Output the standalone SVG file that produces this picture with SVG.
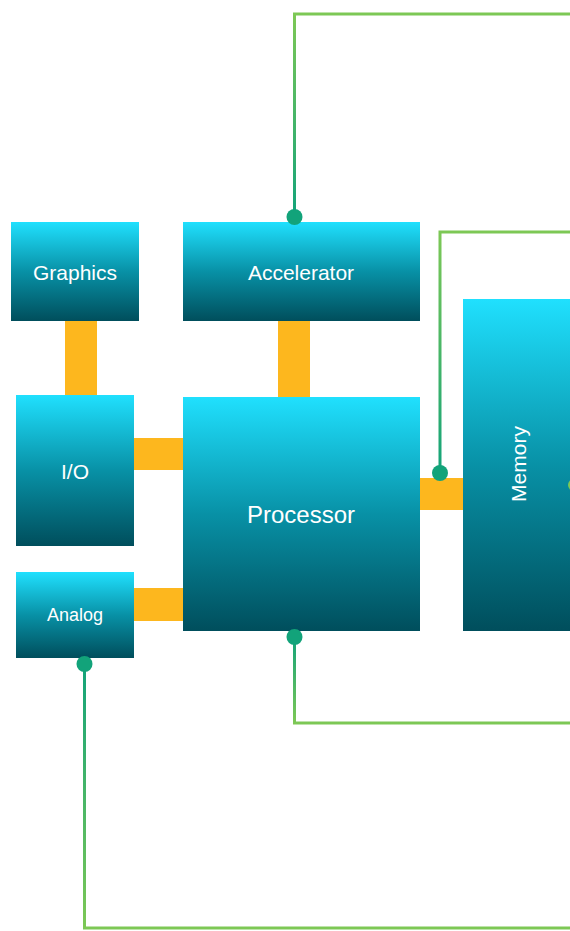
<svg xmlns="http://www.w3.org/2000/svg" width="570" height="931" viewBox="0 0 570 931">
<defs>
<linearGradient id="box" x1="0" y1="0" x2="0" y2="1">
<stop offset="0" stop-color="#20E0FE"/>
<stop offset="0.5" stop-color="#0891A6"/>
<stop offset="1" stop-color="#004E5C"/>
</linearGradient>
<linearGradient id="g1" gradientUnits="userSpaceOnUse" x1="0" y1="217" x2="0" y2="14">
<stop offset="0" stop-color="#12A37A"/><stop offset="1" stop-color="#7DC855"/>
</linearGradient>
<linearGradient id="g2" gradientUnits="userSpaceOnUse" x1="0" y1="473" x2="0" y2="232">
<stop offset="0" stop-color="#12A37A"/><stop offset="1" stop-color="#7DC855"/>
</linearGradient>
<linearGradient id="g3" gradientUnits="userSpaceOnUse" x1="0" y1="637" x2="0" y2="723">
<stop offset="0" stop-color="#12A37A"/><stop offset="1" stop-color="#7DC855"/>
</linearGradient>
<linearGradient id="g4" gradientUnits="userSpaceOnUse" x1="0" y1="664" x2="0" y2="928">
<stop offset="0" stop-color="#12A37A"/><stop offset="1" stop-color="#7DC855"/>
</linearGradient>
</defs>
<style>
.node{fill:url(#box)}
.bus{fill:#FDB71E}
.lbl{fill:#FFFFFF;font-family:"Liberation Sans",Arial,sans-serif;text-anchor:middle;dominant-baseline:central}
.wire{fill:none;stroke-width:3}
.dot{fill:#12A37A}
</style>
<g id="buses">
<rect class="bus" x="65" y="320" width="32" height="76"/>
<rect class="bus" x="278" y="320" width="32" height="78"/>
<rect class="bus" x="133" y="438" width="51" height="32"/>
<rect class="bus" x="133" y="588" width="51" height="33"/>
<rect class="bus" x="419" y="478" width="45" height="32"/>
</g>
<g id="graphics"><rect class="node" x="11" y="222" width="128" height="99"/><text class="lbl" x="75" y="272" font-size="21">Graphics</text></g>
<g id="accelerator"><rect class="node" x="183" y="222" width="237" height="99"/><text class="lbl" x="301" y="272" font-size="21">Accelerator</text></g>
<g id="io"><rect class="node" x="16" y="395" width="118" height="151"/><text class="lbl" x="75" y="471" font-size="21">I/O</text></g>
<g id="processor"><rect class="node" x="183" y="397" width="237" height="234"/><text class="lbl" x="301" y="514" font-size="24">Processor</text></g>
<g id="analog"><rect class="node" x="16" y="572" width="118" height="86"/><text class="lbl" x="75" y="615" font-size="18">Analog</text></g>
<g id="memory"><rect class="node" x="463" y="299" width="112" height="332"/><text class="lbl" x="0" y="0" font-size="21" transform="translate(518 464) rotate(-90)">Memory</text></g>
<g id="connectors">
<path class="wire" stroke="url(#g1)" d="M294.5 217 V14 H570"/>
<path class="wire" stroke="url(#g2)" d="M440 473 V232 H570"/>
<path class="wire" stroke="url(#g3)" d="M294.5 637 V723 H570"/>
<path class="wire" stroke="url(#g4)" d="M84.5 664 V928 H570"/>
<circle class="dot" cx="294.5" cy="217" r="8"/>
<circle class="dot" cx="440" cy="473" r="8"/>
<circle class="dot" cx="294.5" cy="637" r="8"/>
<circle class="dot" cx="84.5" cy="664" r="8"/>
<circle cx="574" cy="485" r="6" fill="#7DC855"/>
</g>
</svg>
